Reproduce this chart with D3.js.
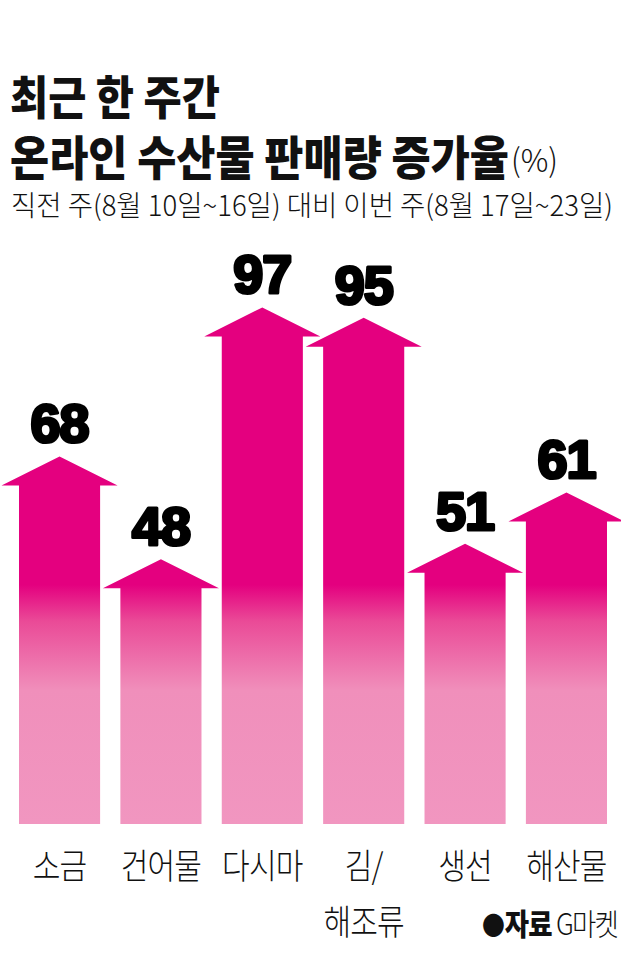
<!DOCTYPE html>
<html><head><meta charset="utf-8">
<script src="https://cdn.jsdelivr.net/npm/d3@7"></script>
<style>
html,body{margin:0;padding:0;background:#fff;}
svg{display:block;}
</style></head>
<body>
<script>
// ---- data ----
const categories = ["소금", "건어물", "다시마", "김/해조류", "생선", "해산물"];
const labelLines = [["소금"], ["건어물"], ["다시마"], ["김/", "해조류"], ["생선"], ["해산물"]];
const values = [68, 48, 97, 95, 51, 61];
const titleLines = ["최근 한 주간", "온라인 수산물 판매량 증가율"];
const titleUnit = "(%)";
const subtitle = "직전 주(8월 10일~16일) 대비 이번 주(8월 17일~23일)";
const sourceLabel = "자료";
const sourceName = "G마켓";

// ---- layout ----
const W = 621, H = 976;
const barBottom = 824;
const headH = 29, headOver = 17.5;
const magenta = "#e4007f", pink = "#f196c0";

const svg = d3.select("body").append("svg").attr("width", W).attr("height", H);

const x = d3.scaleBand().domain(categories).range([19, 607]).paddingInner(0.2).paddingOuter(0);
const y = d3.scaleLinear().domain([0, 100]).range([806, 292]);

const defs = svg.append("defs");
const grad = defs.append("linearGradient").attr("id", "g").attr("gradientUnits", "userSpaceOnUse")
  .attr("x1", 0).attr("x2", 0).attr("y1", 290).attr("y2", barBottom);
grad.append("stop").attr("offset", 0).attr("stop-color", magenta);
grad.append("stop").attr("offset", 0.552).attr("stop-color", magenta);
grad.append("stop").attr("offset", 0.62).attr("stop-color", "#ea4a97");
grad.append("stop").attr("offset", 0.75).attr("stop-color", "#f08fbb");
grad.append("stop").attr("offset", 1).attr("stop-color", pink);

const kr = "'Noto Sans CJK KR', 'Noto Sans', sans-serif";

// place text at (x0, y0) and squeeze horizontally so it spans `width`
function fitText(str, x0, y0, width, size, weight) {
  const g = svg.append("g");
  const t = g.append("text").attr("x", 0).attr("y", 0)
    .attr("font-family", kr).attr("font-weight", weight).attr("font-size", size)
    .attr("fill", "#111").text(str);
  const w = t.node().getComputedTextLength();
  g.attr("transform", `translate(${x0},${y0}) scale(${width / w},1)`);
  return t;
}

// ---- title ----
fitText(titleLines[0], 10, 114, 210, 46, 900);
fitText(titleLines[1], 10, 175, 499, 47, 900);
fitText(titleUnit, 511, 172, 47, 32, 300);
fitText(subtitle, 11, 216, 602, 28, 300);

// ---- arrows ----
const data = categories.map((c, i) => ({ c, v: values[i], lines: labelLines[i] }));
function arrowPath(d) {
  const x0 = x(d.c), bw = x.bandwidth(), xm = x0 + bw / 2;
  const tip = y(d.v), base = tip + headH;
  return `M${x0},${barBottom}L${x0},${base}L${x0 - headOver},${base}L${xm},${tip}` +
         `L${x0 + bw + headOver},${base}L${x0 + bw},${base}L${x0 + bw},${barBottom}Z`;
}
svg.append("g").selectAll("path").data(data).join("path")
  .attr("d", arrowPath).attr("fill", "url(#g)");

// value labels
svg.append("g").selectAll("text").data(data).join("text")
  .attr("x", d => x(d.c) + x.bandwidth() / 2)
  .attr("y", d => y(d.v) - 14)
  .attr("text-anchor", "middle")
  .attr("font-family", "'Liberation Sans', Arial, sans-serif")
  .attr("font-weight", 700).attr("font-size", 54)
  .attr("letter-spacing", -1)
  .attr("fill", "#000").attr("stroke", "#000").attr("stroke-width", 3.2)
  .attr("stroke-linejoin", "round")
  .text(d => d.v);

// category labels (condensed)
const lab = svg.append("g").selectAll("text").data(data).join("text")
  .attr("transform", d => `translate(${x(d.c) + x.bandwidth() / 2},879) scale(0.86,1)`)
  .attr("text-anchor", "middle")
  .attr("font-family", kr).attr("font-weight", 300).attr("font-size", 35)
  .attr("letter-spacing", -1)
  .attr("fill", "#111");
lab.selectAll("tspan").data(d => d.lines.map((l, j) => ({ l, j })))
  .join("tspan")
  .attr("x", 0)
  .attr("dy", d => d.j === 0 ? 0 : 56)
  .text(d => d.l);

// source
const src = svg.append("text").attr("transform", "translate(617,935) scale(0.88,1)")
  .attr("text-anchor", "end")
  .attr("font-family", kr).attr("fill", "#111").attr("font-size", 30);
src.append("tspan").attr("font-size", 26).text("●");
src.append("tspan").attr("font-weight", 900).attr("letter-spacing", -1).text(sourceLabel);
src.append("tspan").attr("font-weight", 300).attr("dx", 5).attr("letter-spacing", -2).text(sourceName);
</script>
</body></html>
